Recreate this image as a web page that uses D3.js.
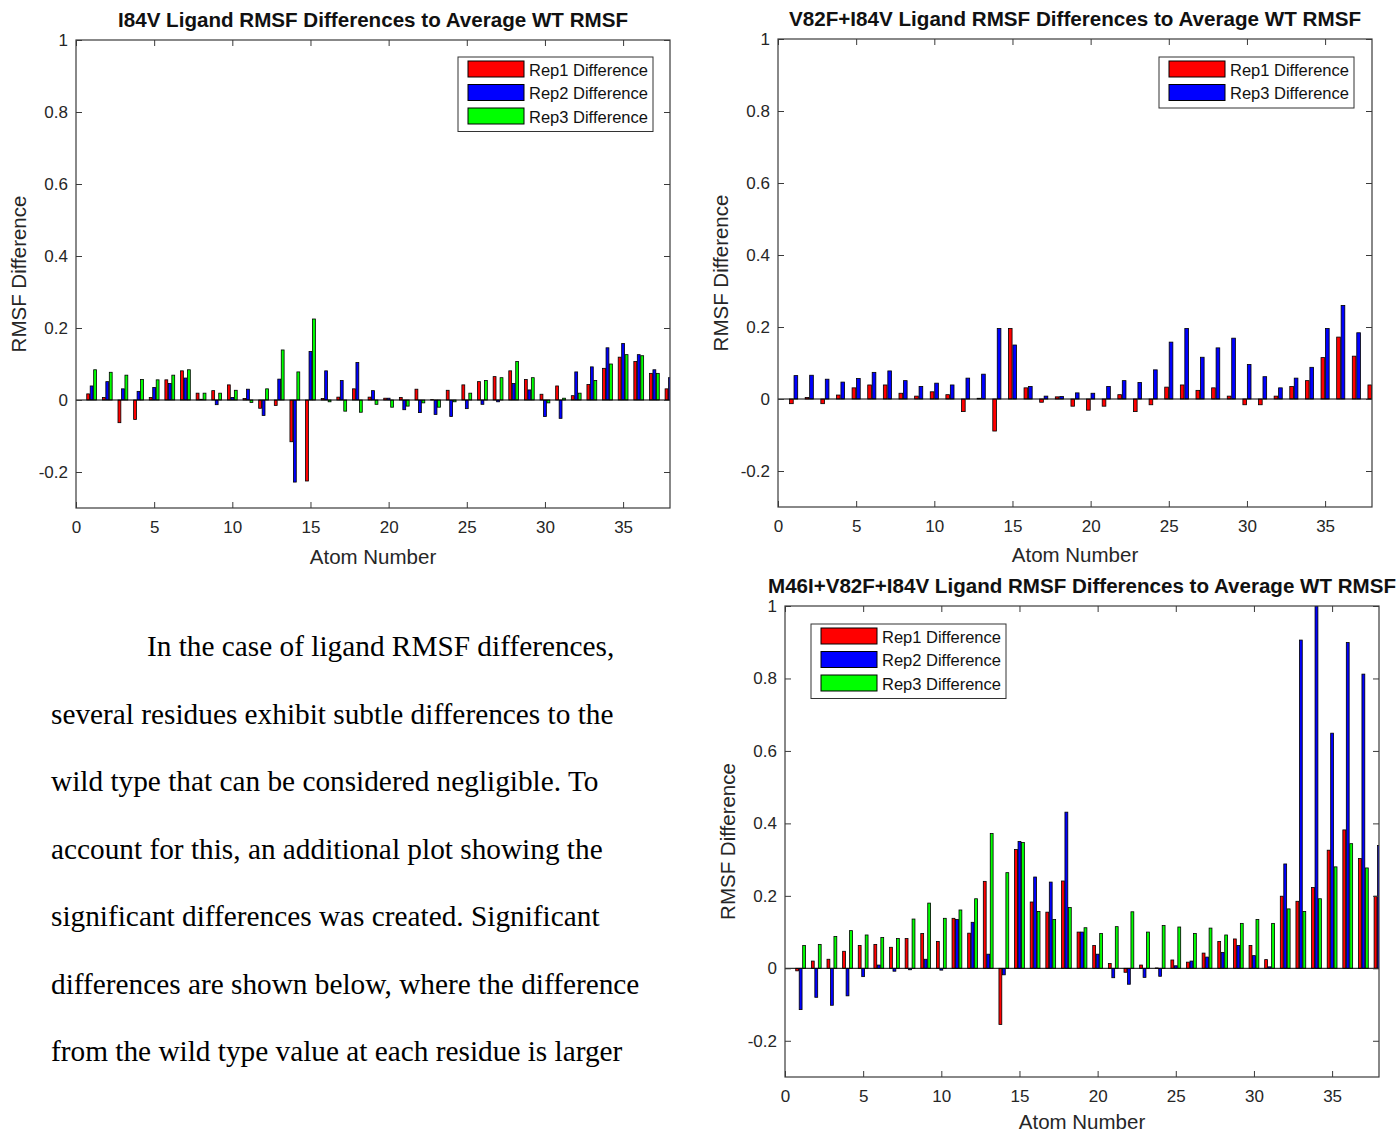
<!DOCTYPE html>
<html>
<head>
<meta charset="utf-8">
<script src="https://cdn.jsdelivr.net/npm/d3@7"></script>
<style>
  html, body { margin: 0; padding: 0; background: #fff; }
  svg { display: block; }
</style>
</head>
<body>
<svg id="fig" width="1399" height="1133"></svg>
<script>
// ---------------- DATA ----------------
const atoms = [1,2,3,4,5,6,7,8,9,10,11,12,13,14,15,16,17,18,19,20,21,22,23,24,25,26,27,28,29,30,31,32,33,34,35,36,37,38];

const xTicks = [0,5,10,15,20,25,30,35];
const xTickLabels = ["0","5","10","15","20","25","30","35"];
const yTicks = [-0.2,0,0.2,0.4,0.6,0.8,1];
const yTickLabels = ["-0.2","0","0.2","0.4","0.6","0.8","1"];

// Chart 1: I84V
const i84v_rep1 = [0.017,0.007,-0.063,-0.054,0.007,0.056,0.081,0.019,0.026,0.042,0.004,-0.023,-0.015,-0.116,-0.225,0.004,0.008,0.031,0.008,0.005,0.007,0.030,0.001,0.027,0.042,0.051,0.065,0.081,0.057,0.016,0.039,0.012,0.043,0.088,0.119,0.107,0.074,0.031];
const i84v_rep2 = [0.039,0.051,0.031,0.024,0.035,0.046,0.061,0.002,-0.013,0.007,0.030,-0.043,0.058,-0.228,0.135,0.081,0.054,0.104,0.026,0.005,-0.027,-0.035,-0.040,-0.046,-0.024,-0.012,-0.005,0.046,0.028,-0.046,-0.051,0.078,0.092,0.145,0.157,0.126,0.084,0.062];
const i84v_rep3 = [0.084,0.077,0.069,0.057,0.056,0.069,0.084,0.019,0.019,0.027,-0.007,0.031,0.139,0.078,0.225,-0.005,-0.031,-0.034,-0.012,-0.020,-0.017,-0.008,-0.020,-0.005,0.019,0.054,0.062,0.107,0.062,-0.008,0.005,0.019,0.054,0.100,0.126,0.123,0.074,0.050];

// Chart 2: V82F+I84V
const v82f_rep1 = [-0.013,0.004,-0.013,0.011,0.031,0.039,0.039,0.016,0.008,0.020,0.012,-0.035,0.002,-0.089,0.196,0.031,-0.009,0.006,-0.020,-0.031,-0.020,0.012,-0.035,-0.016,0.033,0.039,0.024,0.031,0.008,-0.016,-0.016,0.008,0.035,0.051,0.115,0.172,0.119,0.039];
const v82f_rep3 = [0.065,0.066,0.055,0.047,0.057,0.074,0.078,0.051,0.035,0.044,0.039,0.058,0.069,0.196,0.150,0.035,0.008,0.007,0.017,0.016,0.035,0.051,0.046,0.081,0.158,0.196,0.116,0.142,0.169,0.096,0.062,0.031,0.058,0.088,0.196,0.260,0.184,0.050];

// Chart 3: M46I+V82F+I84V
const m46i_rep1 = [-0.007,0.020,0.025,0.047,0.063,0.066,0.058,0.082,0.096,0.074,0.138,0.097,0.240,-0.155,0.328,0.183,0.155,0.241,0.100,0.063,0.013,-0.011,0.009,0.001,0.023,0.017,0.042,0.074,0.081,0.063,0.024,0.199,0.185,0.223,0.326,0.382,0.303,0.199];
const m46i_rep2 = [-0.114,-0.080,-0.102,-0.076,-0.023,0.009,-0.008,-0.004,0.025,-0.005,0.135,0.127,0.039,-0.018,0.350,0.252,0.238,0.431,0.100,0.039,-0.026,-0.044,-0.025,-0.022,0.007,0.020,0.031,0.044,0.063,0.035,0.004,0.288,0.906,1.000,0.649,0.899,0.812,0.339];
const m46i_rep3 = [0.063,0.066,0.088,0.104,0.092,0.085,0.082,0.136,0.180,0.138,0.161,0.192,0.372,0.264,0.347,0.157,0.135,0.168,0.112,0.096,0.115,0.156,0.100,0.118,0.114,0.096,0.111,0.092,0.124,0.135,0.124,0.164,0.157,0.192,0.280,0.344,0.277,0.200];

const seriesNames3 = ["Rep1 Difference","Rep2 Difference","Rep3 Difference"];
const seriesNames2 = ["Rep1 Difference","Rep3 Difference"];

const paragraphLines = [
  "In the case of ligand RMSF differences,",
  "several residues exhibit subtle differences to the",
  "wild type that can be considered negligible. To",
  "account for this, an additional plot showing the",
  "significant differences was created. Significant",
  "differences are shown below, where the difference",
  "from the wild type value at each residue is larger"
];

// ---------------- STYLE / LAYOUT ----------------
const COL = {red:"#ff0000", blue:"#0000ff", green:"#00ff00"};
const FONT = "'Liberation Sans', Arial, Helvetica, sans-serif";
const svg = d3.select("#fig");

const charts = [
  { id:"c1", title:"I84V Ligand RMSF Differences to Average WT RMSF", titleW:510,
    box:{left:76,right:670,top:40,bottom:508}, xLabelY:564,
    series:[i84v_rep1,i84v_rep2,i84v_rep3], names:seriesNames3,
    colors:[COL.red,COL.blue,COL.green],
    legend:{x:458,y:57,w:195} },
  { id:"c2", title:"V82F+I84V Ligand RMSF Differences to Average WT RMSF", titleW:572,
    box:{left:778,right:1372,top:39,bottom:507}, xLabelY:562,
    series:[v82f_rep1,v82f_rep3], names:seriesNames2,
    colors:[COL.red,COL.blue],
    legend:{x:1159,y:57,w:195} },
  { id:"c3", title:"M46I+V82F+I84V Ligand RMSF Differences to Average WT RMSF", titleW:628,
    box:{left:785,right:1379,top:606,bottom:1077}, xLabelY:1129,
    series:[m46i_rep1,m46i_rep2,m46i_rep3], names:seriesNames3,
    colors:[COL.red,COL.blue,COL.green],
    legend:{x:811,y:624,w:195} }
];

charts.forEach(cfg => drawChart(cfg));

function drawChart(cfg){
  const b = cfg.box;
  const g = svg.append("g").attr("class", cfg.id);
  const x = d3.scaleLinear().domain([0,38]).range([b.left,b.right]);
  const y = d3.scaleLinear().domain([-0.3,1]).range([b.bottom,b.top]);

  const n = cfg.series.length;
  const groupW = Math.min(0.8, n/(n+1.5));
  const slot = groupW / n;
  const barW = slot * 0.82;

  g.append("clipPath").attr("id","clip-"+cfg.id)
    .append("rect").attr("x",b.left).attr("y",b.top)
    .attr("width",b.right-b.left).attr("height",b.bottom-b.top);

  const bars = g.append("g").attr("clip-path","url(#clip-"+cfg.id+")");
  cfg.series.forEach((vals, si) => {
    const off = (si - (n-1)/2) * slot;
    bars.append("g").selectAll("rect").data(vals).join("rect")
      .attr("x", (d,i) => x(atoms[i] + off - barW/2))
      .attr("width", x(barW) - x(0))
      .attr("y", d => y(Math.max(0,d)))
      .attr("height", d => Math.abs(y(d) - y(0)))
      .attr("fill", cfg.colors[si])
      .attr("stroke", "#000").attr("stroke-width", 0.8);
  });
  bars.append("line").attr("x1",b.left).attr("x2",b.right)
    .attr("y1",y(0)).attr("y2",y(0)).attr("stroke","#000").attr("stroke-width",1);

  const axColor = "#3a3a3a";
  const gb = g.append("g").attr("transform",`translate(0,${b.bottom})`)
    .call(d3.axisBottom(x).tickValues(xTicks).tickFormat((d,i)=>xTickLabels[i])
      .tickSizeInner(-6).tickSizeOuter(0).tickPadding(13));
  const gl = g.append("g").attr("transform",`translate(${b.left},0)`)
    .call(d3.axisLeft(y).tickValues(yTicks).tickFormat((d,i)=>yTickLabels[i])
      .tickSizeInner(-6).tickSizeOuter(0).tickPadding(8));
  const gt = g.append("g").attr("transform",`translate(0,${b.top})`)
    .call(d3.axisTop(x).tickValues(xTicks).tickFormat(()=> "").tickSizeInner(-6).tickSizeOuter(0));
  const gr = g.append("g").attr("transform",`translate(${b.right},0)`)
    .call(d3.axisRight(y).tickValues(yTicks).tickFormat(()=> "").tickSizeInner(-6).tickSizeOuter(0));
  [gb,gl,gt,gr].forEach(a => {
    a.select(".domain").remove();
    a.selectAll("line").attr("stroke",axColor);
    a.selectAll("text").attr("fill","#262626").style("font-family",FONT).style("font-size","17px");
  });
  g.append("rect").attr("x",b.left).attr("y",b.top)
    .attr("width",b.right-b.left).attr("height",b.bottom-b.top)
    .attr("fill","none").attr("stroke",axColor).attr("stroke-width",1.2);

  const cx = (b.left+b.right)/2, cy = (b.top+b.bottom)/2;
  g.append("text").attr("x",cx).attr("y",b.top-13)
    .attr("text-anchor","middle").style("font-family",FONT)
    .style("font-size","19.5px").style("font-weight","bold").attr("fill","#111")
    .attr("textLength", cfg.titleW).attr("lengthAdjust","spacingAndGlyphs")
    .text(cfg.title);
  g.append("text").attr("x",cx).attr("y",cfg.xLabelY)
    .attr("text-anchor","middle").style("font-family",FONT)
    .style("font-size","20.5px").attr("fill","#262626").text("Atom Number");
  g.append("text").attr("transform",`translate(${b.left-57},${cy}) rotate(-90)`)
    .attr("text-anchor","middle").attr("dy","0.35em").style("font-family",FONT)
    .style("font-size","20.5px").attr("fill","#262626").text("RMSF Difference");

  const L = cfg.legend;
  const rowH = 23.5;
  const lg = g.append("g");
  lg.append("rect").attr("x",L.x).attr("y",L.y).attr("width",L.w).attr("height",n*rowH+4)
    .attr("fill","#fff").attr("stroke","#333").attr("stroke-width",1);
  cfg.names.forEach((nm,i) => {
    lg.append("rect").attr("x",L.x+10).attr("y",L.y+4+i*rowH).attr("width",56).attr("height",16)
      .attr("fill",cfg.colors[i]).attr("stroke","#000").attr("stroke-width",1);
    lg.append("text").attr("x",L.x+71).attr("y",L.y+13+i*rowH).attr("dy","0.35em")
      .style("font-family",FONT).style("font-size","16.5px").attr("fill","#111").text(nm);
  });
}

const para = svg.append("g");
para.selectAll("text").data(paragraphLines).join("text")
  .attr("x",(d,i)=> i===0 ? 147 : 51)
  .attr("y",(d,i)=> 656 + i*67.5)
  .style("font-family","'Liberation Serif','Times New Roman',serif")
  .style("font-size","29.3px").attr("fill","#000")
  .text(d=>d);
</script>
</body>
</html>
